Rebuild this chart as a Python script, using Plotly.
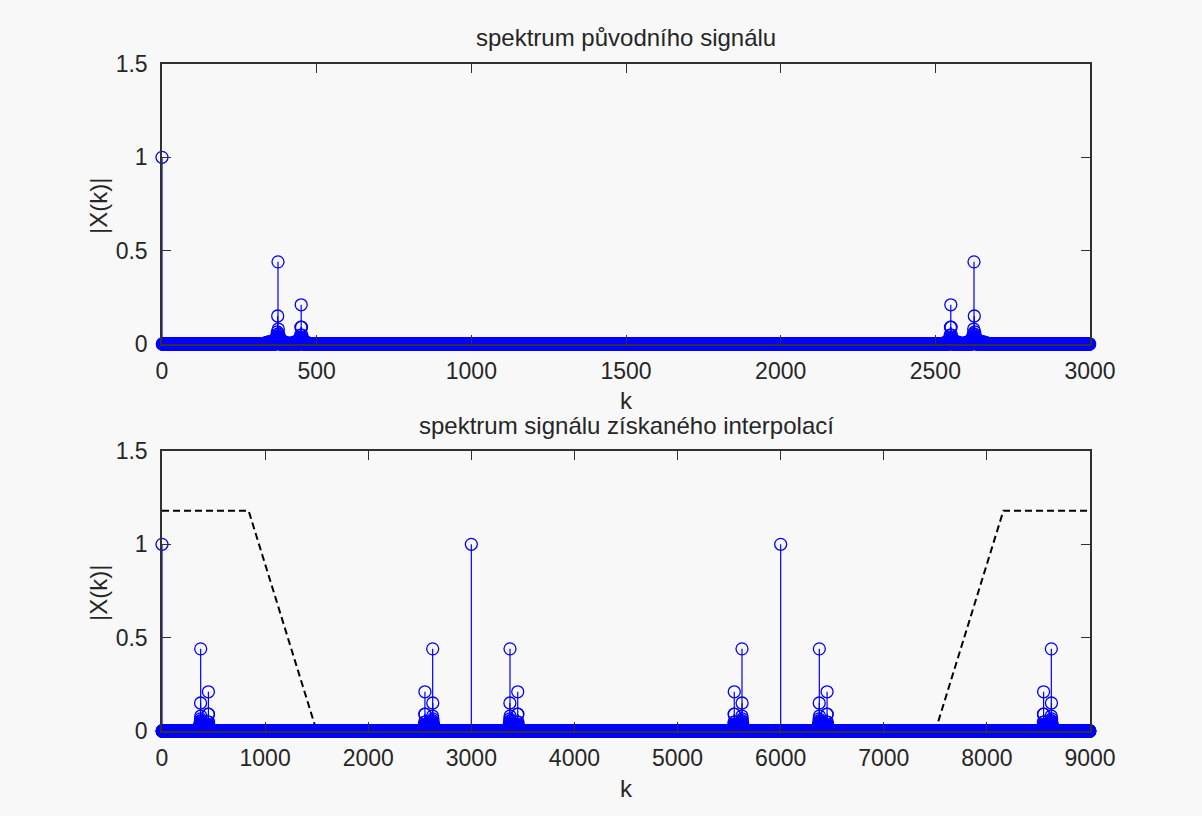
import numpy as np
import plotly.graph_objects as go

# ---------------- data ----------------
top_N = 3000            # number of DFT bins, original signal
bottom_N = 9000         # number of DFT bins, interpolated signal
dc_value = 1.0
top_unit_bins = [0]
bottom_unit_bins = [0, 3000, 6000]

# leakage cluster around the strong component (peak 0.44)
clusterA_offsets = [-38, -32, -27, -22, -18, -14, -11, -9, -7, -6, -5, -4, -3, -2, -1, 0,
                    1, 2, 3, 4, 5, 6, 8, 10, 13, 17, 22, 27]
clusterA_values = [0.008, 0.01, 0.012, 0.014, 0.016, 0.018, 0.02, 0.024, 0.028, 0.032, 0.036,
                   0.04, 0.05, 0.065, 0.15, 0.44, 0.08, 0.055, 0.045, 0.038, 0.032, 0.028,
                   0.024, 0.02, 0.016, 0.012, 0.01, 0.008]
# leakage cluster around the weaker component (peak 0.21)
clusterB_offsets = [-27, -21, -16, -12, -9, -7, -5, -4, -3, -2, -1, 0, 1, 2, 3, 4, 5, 7, 10, 14, 19]
clusterB_values = [0.008, 0.01, 0.012, 0.015, 0.018, 0.022, 0.026, 0.03, 0.036, 0.048, 0.09,
                   0.21, 0.09, 0.048, 0.034, 0.028, 0.024, 0.018, 0.014, 0.01, 0.008]

top_A_centres = [375]
top_A_mirror_centres = [2625]
top_B_centres = [450]
top_B_mirror_centres = [2550]

bottom_A_centres = [375, 3375, 6375]
bottom_A_mirror_centres = [2625, 5625, 8625]
bottom_B_centres = [450, 3450, 6450]
bottom_B_mirror_centres = [2550, 5550, 8550]

# dashed filter response (bottom plot)
filter_k = [0, 840, 1500, 7500, 8160, 9000]
filter_v = [1.18, 1.18, 0.0, 0.0, 1.18, 1.18]

top_xticks = [0, 500, 1000, 1500, 2000, 2500, 3000]
bottom_xticks = [0, 1000, 2000, 3000, 4000, 5000, 6000, 7000, 8000, 9000]
yticks = [0, 0.5, 1, 1.5]
ytick_labels = ["0", "0.5", "1", "1.5"]

title_top = "spektrum původního signálu"
title_bottom = "spektrum signálu získaného interpolací"
xlabel = "k"
ylabel = "|X(k)|"


def build_spectrum(n, unit_bins, a_c, a_m, b_c, b_m):
    y = np.zeros(n)
    for k in unit_bins:
        y[k] = dc_value
    for c in a_c:
        for o, v in zip(clusterA_offsets, clusterA_values):
            y[c + o] = v
    for c in a_m:
        for o, v in zip(clusterA_offsets, clusterA_values):
            y[c - o] = v
    for c in b_c:
        for o, v in zip(clusterB_offsets, clusterB_values):
            y[c + o] = v
    for c in b_m:
        for o, v in zip(clusterB_offsets, clusterB_values):
            y[c - o] = v
    return y


top_y = build_spectrum(top_N, top_unit_bins, top_A_centres, top_A_mirror_centres,
                       top_B_centres, top_B_mirror_centres)
bottom_y = build_spectrum(bottom_N, bottom_unit_bins, bottom_A_centres, bottom_A_mirror_centres,
                          bottom_B_centres, bottom_B_mirror_centres)


def stems(y):
    xs, ys = [], []
    for k, v in enumerate(y):
        if v != 0:
            xs += [k, k, None]
            ys += [0, v, None]
    return xs, ys


BLUE = "#0000ff"
fig = go.Figure()

# filter first so the spectrum markers cover its zero segment
fig.add_trace(go.Scatter(x=filter_k, y=filter_v, mode="lines",
                         line=dict(color="black", width=2, dash="7px,4px"),
                         xaxis="x2", yaxis="y2", cliponaxis=False, hoverinfo="skip"))

for y, xa, ya in [(top_y, "x", "y"), (bottom_y, "x2", "y2")]:
    sx, sy = stems(y)
    fig.add_trace(go.Scatter(x=sx, y=sy, mode="lines", line=dict(color=BLUE, width=1.2),
                             xaxis=xa, yaxis=ya, hoverinfo="skip", cliponaxis=False))
    fig.add_trace(go.Scatter(x=np.arange(len(y)), y=y, mode="markers",
                             marker=dict(symbol="circle-open", size=12, color=BLUE,
                                         line=dict(width=1.3, color=BLUE)),
                             xaxis=xa, yaxis=ya, cliponaxis=False))

W, H = 1202, 816
L, R, T, B = 162, 112, 64, 85
PW, PH = W - L - R, H - T - B


def py(p):
    return (H - B - p) / PH


def px(p):
    return (p - L) / PW


FONT = "Liberation Sans, Arial, sans-serif"
TXT = "#262626"
AX = "#303030"

axis_common = dict(showline=True, linecolor=AX, linewidth=1.5, mirror="ticks",
                   ticks="inside", ticklen=9, tickwidth=1.2, tickcolor=AX,
                   showgrid=False, zeroline=False, layer="above traces",
                   tickfont=dict(family=FONT, size=23, color=TXT))

fig.update_layout(
    width=W, height=H, margin=dict(l=L, r=R, t=T, b=B),
    paper_bgcolor="#f8f8f8", plot_bgcolor="#f8f8f8", showlegend=False,
    xaxis=dict(domain=[0, 1], range=[0, top_N], tickvals=top_xticks, anchor="y",
               ticklabelstandoff=6, **axis_common),
    yaxis=dict(domain=[py(344), 1], range=[0, 1.5], tickvals=yticks, ticktext=ytick_labels,
               anchor="x", ticklabelstandoff=8, **axis_common),
    xaxis2=dict(domain=[0, 1], range=[0, bottom_N], tickvals=bottom_xticks, anchor="y2",
                ticklabelstandoff=6, **axis_common),
    yaxis2=dict(domain=[0, py(451)], range=[0, 1.5], tickvals=yticks, ticktext=ytick_labels,
                anchor="x2", ticklabelstandoff=8, **axis_common),
)

ann_font = dict(family=FONT, size=24, color=TXT)
annotations = [
    dict(text=title_top, x=0.5, y=py(38)),
    dict(text=title_bottom, x=0.5, y=py(425)),
    dict(text=xlabel, x=0.5, y=py(400)),
    dict(text=xlabel, x=0.5, y=py(788)),
    dict(text=ylabel, x=px(98), y=py(206), textangle=-90),
    dict(text=ylabel, x=px(98), y=py(593), textangle=-90),
]
for a in annotations:
    fig.add_annotation(xref="paper", yref="paper", xanchor="center", yanchor="middle",
                       showarrow=False, font=ann_font, **a)

fig.write_html("out.html")
